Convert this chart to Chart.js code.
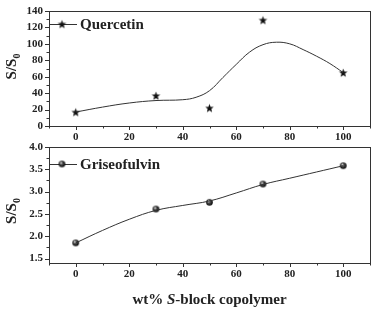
<!DOCTYPE html>
<html>
<head>
<meta charset="utf-8">
<script src="https://cdn.jsdelivr.net/npm/chart.js@4.4.1/dist/chart.umd.min.js"></script>
<style>
    html, body { margin: 0; padding: 0; background: #fff; overflow: hidden; }
    #wrap { position: relative; width: 379px; height: 310px; overflow: hidden; }
    .box { position: absolute; left: 0; width: 379px; }
</style>
</head>
<body>
<div id="wrap">
    <div class="box" style="top:-3px;height:146px"><canvas id="quercetin-chart"></canvas></div>
    <div class="box" style="top:133px;height:177px"><canvas id="griseofulvin-chart"></canvas></div>
</div>
<script>
// values
const xTickLabels = [0, 20, 40, 60, 80, 100];
const xMinorTicks = [-10, 10, 30, 50, 70, 90, 110];
const quercetinTickLabels = [0, 20, 40, 60, 80, 100, 120, 140];
const quercetinMinorTicks = [10, 30, 50, 70, 90, 110, 130];
const griseoTickLabels = [1.5, 2.0, 2.5, 3.0, 3.5, 4.0];
const griseoMinorTicks = [1.75, 2.25, 2.75, 3.25, 3.75];

const quercetinX = [0, 30, 50, 70, 100];
const quercetinY = [17, 37, 22, 129, 65];
// fitted curve
const quercetinFitX = [0, 10, 20, 30, 40, 45, 50, 55, 60, 65, 70, 75, 80, 85, 90, 95, 100];
const quercetinFitY = [17, 23, 28, 31, 32, 35, 43, 59, 75, 90, 99, 102, 100, 93, 85, 76, 65];

const griseoX = [0, 30, 50, 70, 100];
const griseoY = [1.85, 2.61, 2.76, 3.17, 3.58];
const griseoFitX = [0, 10, 20, 30, 40, 50, 60, 70, 80, 90, 100];
const griseoFitY = [1.85, 2.13, 2.38, 2.58, 2.69, 2.79, 2.97, 3.16, 3.30, 3.44, 3.58];

const FONT = "'Liberation Serif', 'Times New Roman', serif";
const INK = '#222';

function pairs(xs, ys) {
    return xs.map((x, i) => ({ x: x, y: ys[i] }));
}

// filled five point star marker
function starImage(r) {
    const c = document.createElement('canvas');
    c.width = c.height = Math.ceil(2 * r + 2);
    const g = c.getContext('2d');
    const cx = c.width / 2, cy = c.height / 2 + 0.5;
    g.beginPath();
    for (let i = 0; i < 10; i++) {
        const rad = i % 2 === 0 ? r : r * 0.42;
        const a = -Math.PI / 2 + i * Math.PI / 5;
        g.lineTo(cx + rad * Math.cos(a), cy + rad * Math.sin(a));
    }
    g.closePath();
    g.fillStyle = '#111';
    g.fill();
    return c;
}

// shaded ball marker
function ballImage(r) {
    const c = document.createElement('canvas');
    c.width = c.height = Math.ceil(2 * r + 2);
    const g = c.getContext('2d');
    const cx = c.width / 2, cy = c.height / 2;
    const grad = g.createRadialGradient(cx - r * 0.35, cy - r * 0.4, 0.3, cx, cy, r);
    grad.addColorStop(0, '#eee');
    grad.addColorStop(0.35, '#555');
    grad.addColorStop(1, '#000');
    g.beginPath();
    g.arc(cx, cy, r, 0, Math.PI * 2);
    g.fillStyle = grad;
    g.fill();
    return c;
}

const star = starImage(4.5);
const ball = ballImage(3.3);

function setTicks(major, minor) {
    return scale => {
        scale.ticks = major.concat(minor).sort((a, b) => a - b).map(v => ({ value: v }));
    };
}

// frame, outward ticks, legend and axis titles
const decorPlugin = {
    id: 'decor',
    afterDraw(chart, args, opts) {
        const ctx = chart.ctx;
        const area = chart.chartArea;
        ctx.save();
        ctx.strokeStyle = '#333';
        ctx.lineWidth = 1;
        ctx.strokeRect(Math.round(area.left) + 0.5, Math.round(area.top) + 0.5,
            Math.round(area.right - area.left), Math.round(area.bottom - area.top));

        const xs = chart.scales.x, ys = chart.scales.y;
        ctx.beginPath();
        xs.ticks.forEach(t => {
            const px = Math.round(xs.getPixelForValue(t.value)) + 0.5;
            const len = t.label !== '' ? 4 : 2.5;
            ctx.moveTo(px, area.bottom);
            ctx.lineTo(px, area.bottom + len);
        });
        ys.ticks.forEach(t => {
            const py = Math.round(ys.getPixelForValue(t.value)) + 0.5;
            const len = t.label !== '' ? 4 : 2.5;
            ctx.moveTo(area.left, py);
            ctx.lineTo(area.left - len, py);
        });
        ctx.stroke();

        // legend entry
        const ly = area.top + opts.legendDy;
        ctx.beginPath();
        ctx.moveTo(area.left, ly + 0.5);
        ctx.lineTo(area.left + 28, ly + 0.5);
        ctx.stroke();
        ctx.drawImage(opts.marker, area.left + 13 - opts.marker.width / 2, ly - opts.marker.height / 2);
        ctx.fillStyle = INK;
        ctx.font = 'bold 15px ' + FONT;
        ctx.textBaseline = 'middle';
        ctx.textAlign = 'left';
        ctx.fillText(opts.legend, area.left + 31, ly + 1);

        // y title S/S0
        ctx.save();
        ctx.translate(16, (area.top + area.bottom) / 2 + opts.titleDy);
        ctx.rotate(-Math.PI / 2);
        ctx.font = 'bold 15px ' + FONT;
        ctx.textBaseline = 'alphabetic';
        const w1 = ctx.measureText('S/S').width;
        ctx.font = 'bold 10px ' + FONT;
        const w2 = ctx.measureText('0').width;
        ctx.font = 'bold 15px ' + FONT;
        ctx.fillText('S/S', -(w1 + w2) / 2, 0);
        ctx.font = 'bold 10px ' + FONT;
        ctx.fillText('0', -(w1 + w2) / 2 + w1, 4);
        ctx.restore();

        // x title
        if (opts.xTitle) {
            const parts = [
                ['bold 15px ' + FONT, 'wt% '],
                ['italic bold 15px ' + FONT, 'S'],
                ['bold 15px ' + FONT, '-block copolymer']
            ];
            let total = 0;
            parts.forEach(p => { ctx.font = p[0]; total += ctx.measureText(p[1]).width; });
            let x = (area.left + area.right) / 2 - total / 2;
            ctx.textBaseline = 'middle';
            parts.forEach(p => {
                ctx.font = p[0];
                ctx.fillText(p[1], x, area.bottom + 37);
                x += ctx.measureText(p[1]).width;
            });
        }
        ctx.restore();
    }
};

function makeChart(id, cfg) {
    return new Chart(document.getElementById(id), {
        type: 'scatter',
        data: {
            datasets: [
                {
                    data: pairs(cfg.fitX, cfg.fitY),
                    showLine: true,
                    borderColor: '#333',
                    borderWidth: 1,
                    pointRadius: 0,
                    tension: 0.4
                },
                {
                    data: pairs(cfg.x, cfg.y),
                    showLine: false,
                    pointStyle: cfg.marker,
                    pointRadius: 4
                }
            ]
        },
        options: {
            responsive: true,
            maintainAspectRatio: false,
            animation: false,
            events: [],
            layout: { padding: { top: cfg.padTop, right: 9, left: 0, bottom: 0 } },
            plugins: {
                legend: { display: false },
                tooltip: { enabled: false },
                decor: {
                    legend: cfg.legend,
                    marker: cfg.marker,
                    legendDy: cfg.legendDy,
                    titleDy: cfg.titleDy,
                    xTitle: cfg.xTitle
                }
            },
            scales: {
                x: {
                    type: 'linear',
                    min: -10,
                    max: 110,
                    grid: { display: false, drawTicks: false },
                    border: { display: false },
                    afterBuildTicks: setTicks(xTickLabels, xMinorTicks),
                    ticks: {
                        autoSkip: false,
                        maxRotation: 0,
                        padding: 5,
                        color: INK,
                        font: { family: FONT, size: 11, weight: 'bold' },
                        callback: v => xTickLabels.includes(v) ? String(v) : ''
                    },
                    afterFit: s => { s.height = cfg.xHeight; }
                },
                y: {
                    min: cfg.yMin,
                    max: cfg.yMax,
                    grid: { display: false, drawTicks: false },
                    border: { display: false },
                    afterBuildTicks: setTicks(cfg.yLabels, cfg.yMinor),
                    ticks: {
                        autoSkip: false,
                        padding: 6,
                        color: INK,
                        font: { family: FONT, size: 11, weight: 'bold' },
                        callback: cfg.yLabel
                    },
                    afterFit: s => { s.width = 49; }
                }
            }
        },
        plugins: [decorPlugin]
    });
}

makeChart('quercetin-chart', {
    x: quercetinX, y: quercetinY, fitX: quercetinFitX, fitY: quercetinFitY,
    marker: star, legend: 'Quercetin', legendDy: 13, titleDy: -2, xTitle: false,
    padTop: 14, xHeight: 17, yMin: 0, yMax: 140,
    yLabels: quercetinTickLabels, yMinor: quercetinMinorTicks,
    yLabel: v => quercetinTickLabels.includes(v) ? String(v) : ''
});

makeChart('griseofulvin-chart', {
    x: griseoX, y: griseoY, fitX: griseoFitX, fitY: griseoFitY,
    marker: ball, legend: 'Griseofulvin', legendDy: 17, titleDy: 6, xTitle: true,
    padTop: 14, xHeight: 47, yMin: 1.4, yMax: 4.0,
    yLabels: griseoTickLabels, yMinor: griseoMinorTicks,
    yLabel: v => griseoTickLabels.some(t => Math.abs(t - v) < 1e-6) ? v.toFixed(1) : ''
});
</script>
</body>
</html>
